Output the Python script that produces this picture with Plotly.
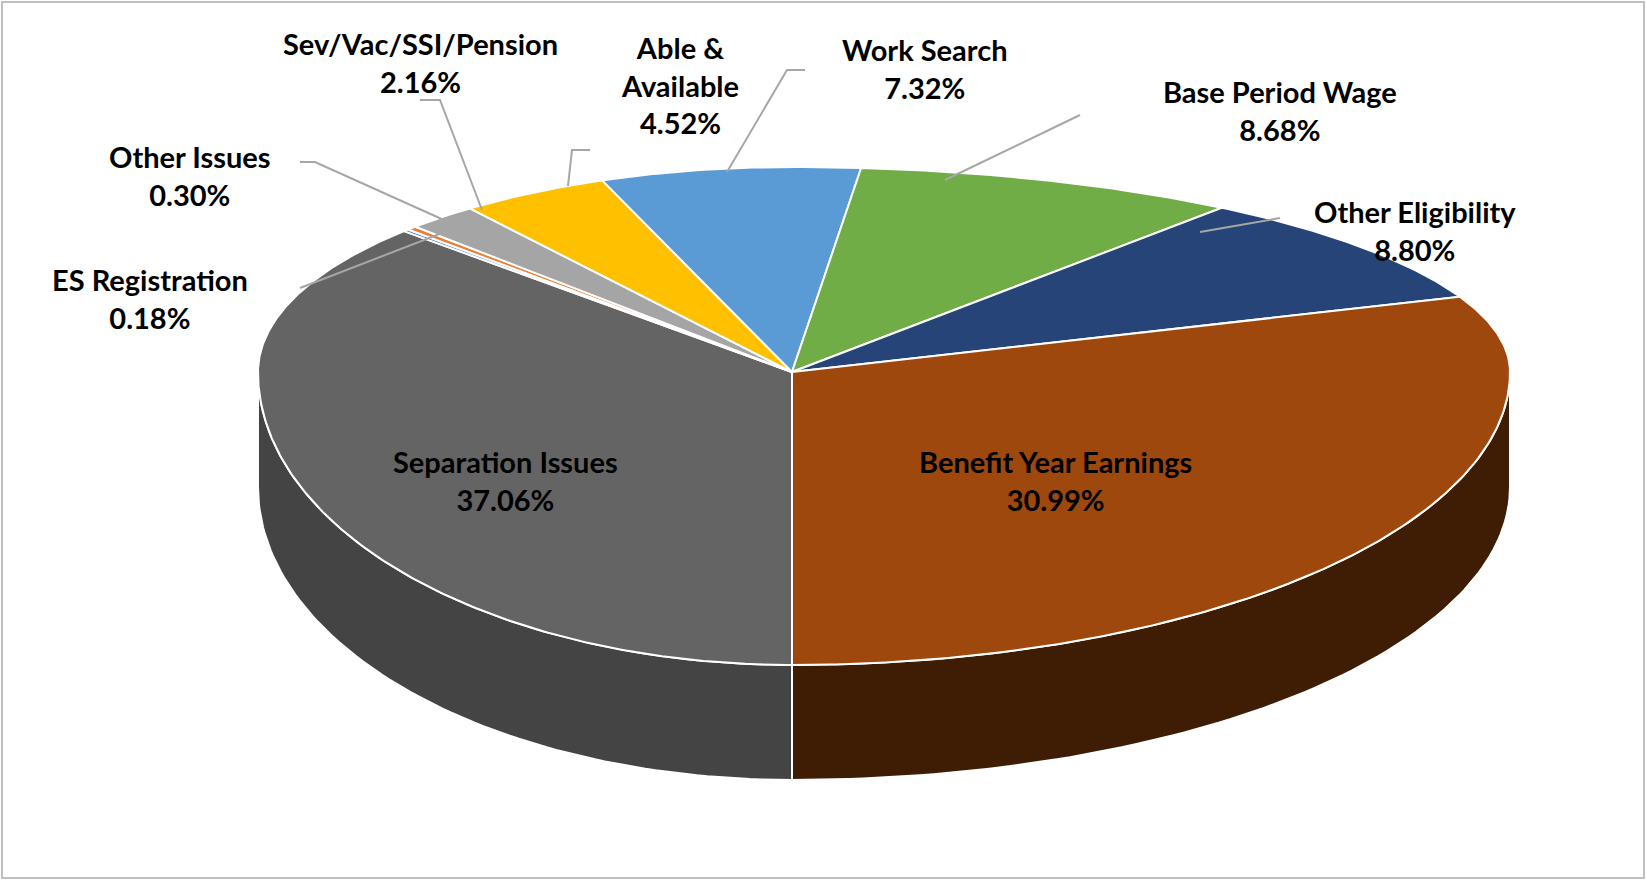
import numpy as np
import plotly.graph_objects as go

categories = ["Separation Issues", "ES Registration", "Other Issues", "Sev/Vac/SSI/Pension",
              "Able &<br>Available", "Work Search", "Base Period Wage", "Other Eligibility",
              "Benefit Year Earnings"]
values = [37.06, 0.18, 0.30, 2.16, 4.52, 7.32, 8.68, 8.80, 30.99]
colors = ["#646464", "#4472c4", "#ed7d31", "#a5a5a5", "#ffc000", "#5b9bd5", "#70ad47", "#264478", "#9e480e"]
side_colors = ["#444444", "#333", "#333", "#777", "#aa8000", "#3d6d96", "#4e7a31", "#1a3054", "#3e1d04"]

W, H = 1647, 881
cx, cy = 792, 372
rxL, rxR, ryT, ryB = 534, 718, 205, 293
depth = 115
start = 180.0

def pt(theta):
    t = np.radians(theta)
    s, c = np.sin(t), np.cos(t)
    x = cx + (rxR if s >= 0 else rxL) * s
    y = cy - (ryT if c >= 0 else ryB) * c
    return x, y

total = sum(values)
bounds = []
a = start
for v in values:
    b = a + v / total * 360
    bounds.append((a, b))
    a = b

fig = go.Figure()
for (a, b), sc in zip(bounds, side_colors):
    for off in (0, 360):
        aa, bb = max(a - off, 90), min(b - off, 270)
        if bb > aa:
            th = np.linspace(aa, bb, 80)
            pts = [pt(t) for t in th]
            xs = [p[0] for p in pts] + [p[0] for p in pts[::-1]] + [pts[0][0]]
            ys = [p[1] for p in pts] + [p[1] + depth for p in pts[::-1]] + [pts[0][1]]
            fig.add_trace(go.Scatter(x=xs, y=ys, fill="toself", fillcolor=sc, mode="lines",
                                     line=dict(color="white", width=2), hoverinfo="skip", showlegend=False))
for (a, b), col, name, v in zip(bounds, colors, categories, values):
    th = np.linspace(a, b, max(3, int((b - a) * 2)))
    pts = [pt(t) for t in th]
    xs = [cx] + [p[0] for p in pts] + [cx]
    ys = [cy] + [p[1] for p in pts] + [cy]
    fig.add_trace(go.Scatter(x=xs, y=ys, fill="toself", fillcolor=col, mode="lines",
                             line=dict(color="white", width=2), name=name.replace("<br>", " "),
                             hoverinfo="name", showlegend=False))

label_pos = [(505, 480), (150, 298), (190, 175), (420, 62), (680, 85), (925, 68), (1280, 110), (1415, 230), (1055, 480)]
for name, v, (x, y) in zip(categories, values, label_pos):
    fig.add_annotation(x=x, y=y, text=f"<b>{name}<br>{v:.2f}%</b>", showarrow=False,
                       font=dict(family="Lato", size=29, color="black"), xanchor="center", yanchor="middle")

leaders = [
    [(300, 288), (455, 228)],
    [(300, 162), (315, 162), (455, 225)],
    [(420, 100), (440, 100), (482, 210)],
    [(590, 150), (572, 150), (568, 186)],
    [(805, 70), (787, 70), (727, 172)],
    [(1080, 115), (945, 180)],
    [(1280, 218), (1200, 232)],
]
for ln in leaders:
    fig.add_trace(go.Scatter(x=[p[0] for p in ln], y=[p[1] for p in ln], mode="lines",
                             line=dict(color="#a6a6a6", width=2), hoverinfo="skip", showlegend=False))

fig.add_shape(type="rect", x0=2, y0=2, x1=W - 3, y1=H - 3, line=dict(color="#bfbfbf", width=2))
fig.update_layout(autosize=True, margin=dict(l=0, r=0, t=0, b=0), plot_bgcolor="white",
                  paper_bgcolor="white",
                  xaxis=dict(range=[0, W], visible=False, fixedrange=True),
                  yaxis=dict(range=[H, 0], visible=False, fixedrange=True))
fig.write_html("out.html", default_width="100vw", default_height="100vh",
               config={"responsive": True, "displayModeBar": False},
               post_script="document.body.style.margin='0';document.body.style.overflow='hidden';"
                           "window.dispatchEvent(new Event('resize'));")
